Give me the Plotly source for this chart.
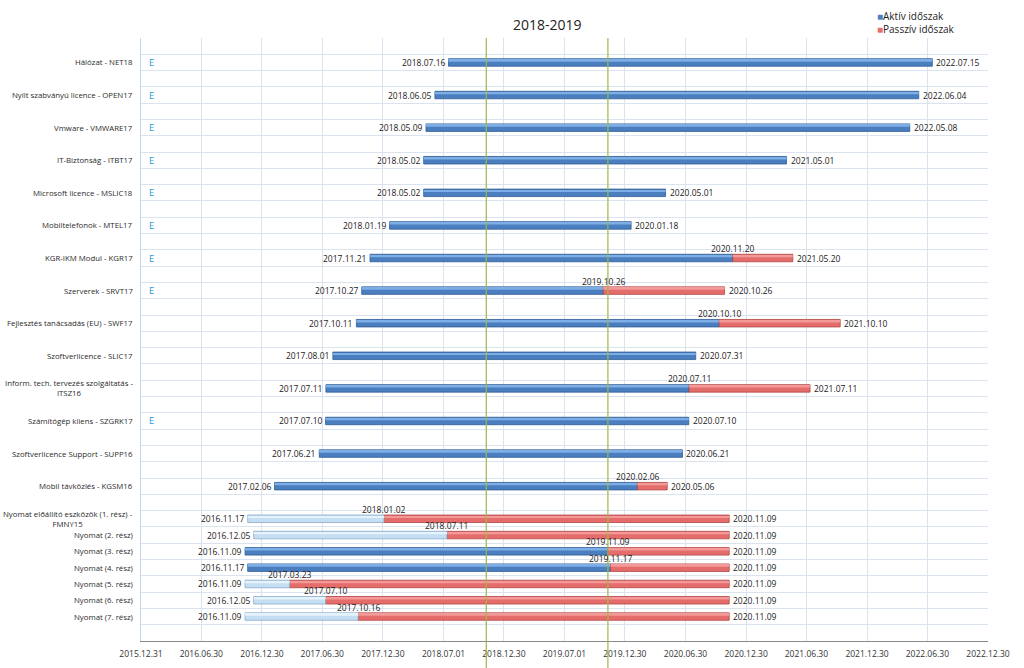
import pandas as pd
import plotly.graph_objects as go

# ---------------- data ----------------
labels = [
    "Hálózat - NET18",
    "Nyílt szabványú licence - OPEN17",
    "Vmware - VMWARE17",
    "IT-Biztonság - ITBT17",
    "Microsoft licence - MSLIC18",
    "Mobiltelefonok - MTEL17",
    "KGR-IKM Modul - KGR17",
    "Szerverek - SRVT17",
    "Fejlesztés tanácsadás (EU) - SWF17",
    "Szoftverlicence - SLIC17",
    "Inform. tech. tervezés szolgáltatás -<br>ITSZ16",
    "Számítógép kliens - SZGRK17",
    "Szoftverlicence Support - SUPP16",
    "Mobil távközlés - KGSM16",
    "Nyomat előállító eszközök (1. rész) -<br>FMNY15",
    "Nyomat (2. rész)",
    "Nyomat (3. rész)",
    "Nyomat (4. rész)",
    "Nyomat (5. rész)",
    "Nyomat (6. rész)",
    "Nyomat (7. rész)",
]
starts = [
    "2018.07.16", "2018.06.05", "2018.05.09", "2018.05.02", "2018.05.02",
    "2018.01.19", "2017.11.21", "2017.10.27", "2017.10.11", "2017.08.01",
    "2017.07.11", "2017.07.10", "2017.06.21", "2017.02.06",
    "2016.11.17", "2016.12.05", "2016.11.09", "2016.11.17", "2016.11.09",
    "2016.12.05", "2016.11.09",
]
# end of the first (active / light) period where a passive period follows
splits = [
    None, None, None, None, None,
    None, "2020.11.20", "2019.10.26", "2020.10.10", None,
    "2020.07.11", None, None, "2020.02.06",
    "2018.01.02", "2018.07.11", "2019.11.09", "2019.11.17", "2017.03.23",
    "2017.07.10", "2017.10.16",
]
ends = [
    "2022.07.15", "2022.06.04", "2022.05.08", "2021.05.01", "2020.05.01",
    "2020.01.18", "2021.05.20", "2020.10.26", "2021.10.10", "2020.07.31",
    "2021.07.11", "2020.07.10", "2020.06.21", "2020.05.06",
    "2020.11.09", "2020.11.09", "2020.11.09", "2020.11.09", "2020.11.09",
    "2020.11.09", "2020.11.09",
]
# kind of the first period: A = aktív (blue), L = light blue
first_kind = ["A"] * 14 + ["L", "L", "A", "A", "L", "L", "L"]
e_flags = [1, 1, 1, 1, 1, 1, 1, 1, 0, 0, 0, 1, 0, 0, 0, 0, 0, 0, 0, 0, 0]

tick_labels = [
    "2015.12.31", "2016.06.30", "2016.12.30", "2017.06.30", "2017.12.30",
    "2018.07.01", "2018.12.30", "2019.07.01", "2019.12.30", "2020.06.30",
    "2020.12.30", "2021.06.30", "2021.12.30", "2022.06.30", "2022.12.30",
]
period_lines = ["2018.11.07", "2019.11.09"]
period_title = "2018-2019"
legend_names = ["Aktív időszak", "Passzív időszak"]

# ---------------- helpers ----------------
ORIGIN = pd.Timestamp("2015-12-31")


def d(s):
    return (pd.Timestamp(s.replace(".", "-")) - ORIGIN).days


pos = [2 * i if i < 14 else 14 + i for i in range(len(labels))]

FONT = "Open Sans"
BLUE, BLUE_D, BLUE_H = "#4a7ebf", "#2e5d96", "#7eaee6"
LIGHT, LIGHT_D, LIGHT_H = "#c4def3", "#8aa9c9", "#e6f3fc"
RED, RED_D, RED_H = "#e46d6b", "#b04644", "#f39a98"

segs = {"A": ([], [], []), "L": ([], [], []), "P": ([], [], [])}
for i in range(len(labels)):
    s = d(starts[i])
    e = d(ends[i])
    if splits[i] is None:
        k = segs[first_kind[i]]
        k[0].append(pos[i]); k[1].append(s); k[2].append(e - s)
    else:
        m = d(splits[i])
        k = segs[first_kind[i]]
        k[0].append(pos[i]); k[1].append(s); k[2].append(m - s)
        k = segs["P"]
        k[0].append(pos[i]); k[1].append(m); k[2].append(e - m)

fig = go.Figure()
styles = {
    "A": (BLUE, BLUE_D, BLUE_H, legend_names[0]),
    "L": (LIGHT, LIGHT_D, LIGHT_H, "light"),
    "P": (RED, RED_D, RED_H, legend_names[1]),
}
for key in ["A", "P", "L"]:
    ys, bases, lens = segs[key]
    col, dark, hi, name = styles[key]
    fig.add_trace(go.Bar(
        y=ys, x=lens, base=bases, orientation="h", width=0.46,
        marker=dict(color=col, line=dict(color=dark, width=0.8)),
        name=name, showlegend=False, hoverinfo="skip",
    ))
    fig.add_trace(go.Bar(
        y=ys, x=lens, base=bases, orientation="h", width=0.12, offset=-0.17,
        marker=dict(color=hi, line=dict(width=0)),
        showlegend=False, hoverinfo="skip",
    ))

txt_font = dict(family=FONT, size=8.5, color="#1a1a1a")
for i in range(len(labels)):
    fig.add_annotation(x=d(starts[i]), y=pos[i], text=starts[i], showarrow=False,
                       xanchor="right", xshift=-2, font=txt_font)
    fig.add_annotation(x=d(ends[i]), y=pos[i], text=ends[i], showarrow=False,
                       xanchor="left", xshift=2, font=txt_font)
    if splits[i] is not None:
        fig.add_annotation(x=d(splits[i]), y=pos[i], text=splits[i], showarrow=False,
                           yanchor="bottom", yshift=2, font=txt_font)

# category labels
for i, lab in enumerate(labels):
    fig.add_annotation(
        x=0, xref="paper", y=pos[i], yref="y", text=lab, showarrow=False,
        xanchor="right", xshift=-6, align="center",
        font=dict(family=FONT, size=7.8, color="#2a2a2a"),
    )
    if e_flags[i]:
        fig.add_annotation(
            x=0, xref="paper", y=pos[i], yref="y", text="E", showarrow=False,
            xanchor="left", xshift=6,
            font=dict(family=FONT, size=9.5, color="#1f9bd7"),
        )

# period lines + title
for p in period_lines:
    fig.add_shape(type="line", x0=d(p), x1=d(p), xref="x", y0=-0.045, y1=1,
                  yref="paper", line=dict(color="#9cb84a", width=1.2), layer="above")
fig.add_annotation(
    x=(d(period_lines[0]) + d(period_lines[1])) / 2, xref="x", y=1.022, yref="paper",
    yanchor="middle", text=period_title, showarrow=False,
    font=dict(family=FONT, size=14, color="#222222"),
)

# legend (drawn as text with coloured squares)
for j, (nm, col) in enumerate(zip(legend_names, [BLUE, RED])):
    fig.add_annotation(
        x=0.866, xref="paper", y=1.037 - j * 0.0215, yref="paper",
        xanchor="left", yanchor="middle",
        text=f"<span style='color:{col}'>■</span>{nm}", showarrow=False,
        font=dict(family=FONT, size=10, color="#222222"),
    )

grid_y = [k + 0.5 for k in range(-1, 35)]
fig.update_layout(
    width=1024, height=668,
    margin=dict(l=141, r=36, t=38, b=27, autoexpand=False),
    paper_bgcolor="white", plot_bgcolor="white",
    barmode="overlay",
    xaxis=dict(
        range=[0, d(tick_labels[-1])],
        tickvals=[d(t) for t in tick_labels], ticktext=tick_labels,
        showgrid=True, gridcolor="#dbe4ee", gridwidth=1,
        zeroline=False, showline=True, linecolor="#8a8a8a", linewidth=1,
        tickfont=dict(family=FONT, size=8.5, color="#333333"),
        ticks="", ticklabelstandoff=5,
    ),
    yaxis=dict(
        range=[35.5, -1.5], tickvals=grid_y, showticklabels=False,
        showgrid=True, gridcolor="#dbe4ee", gridwidth=1,
        zeroline=False, showline=True, linecolor="#c6d6e8", linewidth=1,
        ticks="",
    ),
    showlegend=False,
)

fig.write_html("out.html")
